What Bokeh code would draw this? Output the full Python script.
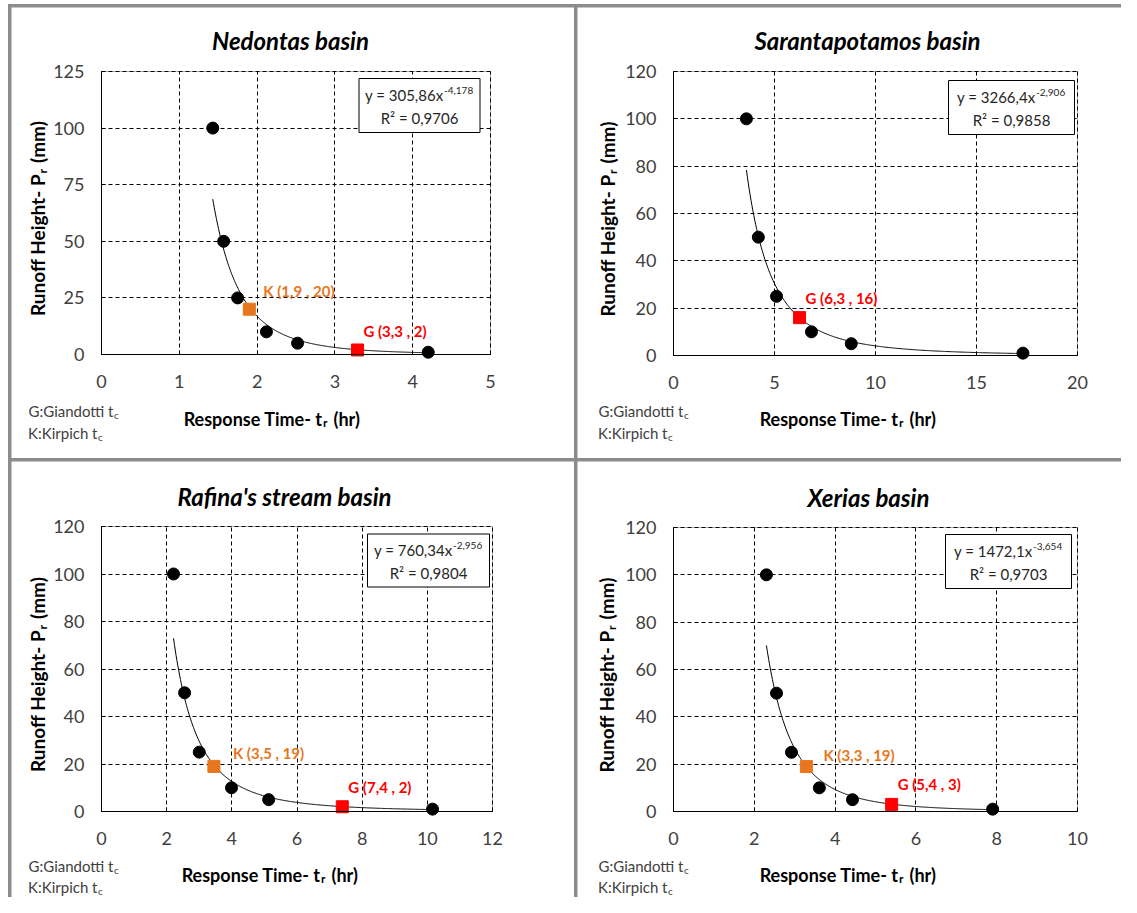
import numpy as np
from bokeh.plotting import figure
from bokeh.models import Range1d, FixedTicker, Label, BoxAnnotation, Grid
from bokeh.layouts import row, column
from bokeh.embed import file_html
from bokeh.resources import INLINE

# ---------------- data ----------------
titles = ["Nedontas basin", "Sarantapotamos basin", "Rafina's stream basin", "Xerias basin"]
runoff_mm = [100, 50, 25, 10, 5, 1]
ned_tr = [1.43, 1.57, 1.75, 2.12, 2.52, 4.20]
sar_tr = [3.61, 4.20, 5.10, 6.83, 8.80, 17.30]
raf_tr = [2.21, 2.55, 3.00, 3.99, 5.13, 10.16]
xer_tr = [2.30, 2.55, 2.92, 3.61, 4.43, 7.90]

# power-law trendline coefficients shown in each chart (y = a * x^b)
fit_a = [305.86, 3266.4, 760.34, 1472.1]
fit_b = [-4.178, -2.906, -2.956, -3.654]
eq_main = ["y = 305,86x", "y = 3266,4x", "y = 760,34x", "y = 1472,1x"]
eq_sup = ["-4,178", "-2,906", "-2,956", "-3,654"]
eq_r2 = ["R\u00b2 = 0,9706", "R\u00b2 = 0,9858", "R\u00b2 = 0,9804", "R\u00b2 = 0,9703"]

# Kirpich (K) and Giandotti (G) concentration times
kirpich_x = [1.9, None, 3.45, 3.29]
kirpich_y = [20, None, 19, 19]
kirpich_lbl = ["K (1,9 , 20)", None, "K (3,5 , 19)", "K (3,3 , 19)"]
giand_x = [3.29, 6.24, 7.39, 5.40]
giand_y = [2, 16, 2, 3]
giand_lbl = ["G (3,3 , 2)", "G (6,3 , 16)", "G (7,4 , 2)", "G (5,4 , 3)"]

x_max = [5, 20, 12, 10]
x_ticks = [[0, 1, 2, 3, 4, 5], [0, 5, 10, 15, 20], [0, 2, 4, 6, 8, 10, 12], [0, 2, 4, 6, 8, 10]]
y_max = [125, 120, 120, 120]
y_ticks = [[0, 25, 50, 75, 100, 125], [0, 20, 40, 60, 80, 100, 120],
           [0, 20, 40, 60, 80, 100, 120], [0, 20, 40, 60, 80, 100, 120]]
tr_sets = [ned_tr, sar_tr, raf_tr, xer_tr]

# ---------------- style / layout ----------------
FONT = "Lato"
GRAY = "#8c8c8c"
ORANGE = "#E8761E"
RED = "#FF0000"
TICK_COLOR = "#404040"
TEXT_DARK = "#262626"

# canvas width, height, plot-area left offset, plot-area width, top offset, plot-area height
geom = [(563, 451, 90, 389, 64, 283),
        (544, 451, 96, 404, 64, 284),
        (563, 436, 90, 391, 65, 285),
        (544, 436, 96, 404, 66, 284)]
title_off = [(189, 31), (194, 31), (183, 30), (195, 30)]
xt_anchor = [221, 225, 219, 225]
xt_below = [64, 63, 63, 63]
yt_left = [-64, -66, -64, -67]
note_anchor = [(12, -4), (10, -6), (12, -4), (10, -6)]
note_below = [(56, 78), (55, 77), (54, 75), (54, 75)]
# equation box: centre offset from plot-area left / top, and size
eq_box = [(318, 34, 121, 54), (338, 36, 126, 54), (327, 34, 122, 53), (335, 34, 126, 54)]
k_off = [(14, 18), None, (19, 13), (17, 12)]
g_off = [(6, 19), (6, 20), (6, 20), (6, 20)]


def lab(p, x, y, text, dx, dy, size, color="black", style="normal",
        align="left", baseline="middle", angle=0.0):
    p.add_layout(Label(x=x, y=y, x_offset=dx, y_offset=dy, text=text,
                       text_font=FONT, text_font_size=f"{size}px",
                       text_color=color, text_font_style=style,
                       text_align=align, text_baseline=baseline, angle=angle))


HAS_CROSS = "cross_bounds" in Grid.properties()


def make_panel(i):
    W, H, L, fw, T, fh = geom[i]
    xm, ym = x_max[i], y_max[i]
    ux, uy = xm / fw, ym / fh
    xr = Range1d(-L * ux, xm + (W - L - fw) * ux)
    yr = Range1d(-(H - T - fh) * uy, ym + T * uy)
    p = figure(width=W, height=H, x_range=xr, y_range=yr, title=None,
               output_backend="svg", toolbar_location=None,
               min_border_left=0, min_border_right=0, min_border_top=0, min_border_bottom=0)
    p.margin = (3, 0, 0, 3)
    p.background_fill_color = "white"
    p.border_fill_color = "white"
    p.outline_line_color = None

    for ax, ticks, bmax in ((p.xaxis[0], x_ticks[i], xm), (p.yaxis[0], y_ticks[i], ym)):
        ax.ticker = FixedTicker(ticks=ticks)
        ax.fixed_location = 0
        ax.bounds = (0, bmax)
        ax.axis_line_color = "black"
        ax.major_tick_in = 4
        ax.major_tick_out = 0
        ax.major_tick_line_color = "black"
        ax.minor_tick_line_color = None
        ax.major_label_text_font = FONT
        ax.major_label_text_font_size = "18px"
        ax.major_label_text_color = TICK_COLOR
    p.xaxis.major_label_standoff = 20
    p.yaxis.major_label_standoff = 17

    # dashed grid limited to the plot area
    if HAS_CROSS:
        for g, ticks, b, cb in ((p.xgrid[0], x_ticks[i], (0, xm), (0, ym)),
                                (p.ygrid[0], y_ticks[i], (0, ym), (0, xm))):
            g.ticker = FixedTicker(ticks=ticks)
            g.bounds = b
            g.cross_bounds = cb
            g.grid_line_color = "black"
            g.grid_line_dash = "4 3"
            g.grid_line_width = 1
    else:
        p.xgrid.visible = False
        p.ygrid.visible = False
        xt, yt = x_ticks[i], y_ticks[i]
        p.segment(x0=xt, y0=[0] * len(xt), x1=xt, y1=[ym] * len(xt),
                  line_color="black", line_dash="4 3", line_width=1, level="underlay")
        p.segment(x0=[0] * len(yt), y0=yt, x1=[xm] * len(yt), y1=yt,
                  line_color="black", line_dash="4 3", line_width=1, level="underlay")

    # plot-area frame
    p.add_layout(BoxAnnotation(left=0, right=xm, bottom=0, top=ym, fill_color=None,
                               line_color="black", line_width=1, level="underlay"))

    # trendline over the data range
    trs = tr_sets[i]
    xs = np.linspace(min(trs), max(trs), 300)
    p.line(xs, fit_a[i] * xs ** fit_b[i], line_color="black", line_width=1)

    # data points
    p.scatter(trs, runoff_mm, marker="circle", size=12, fill_color="black", line_color="black")

    # Kirpich / Giandotti markers
    if kirpich_x[i] is not None:
        p.scatter([kirpich_x[i]], [kirpich_y[i]], marker="square", size=12,
                  fill_color=ORANGE, line_color=ORANGE)
        lab(p, kirpich_x[i], kirpich_y[i], kirpich_lbl[i], k_off[i][0], k_off[i][1], 15,
            color=ORANGE, style="bold")
    p.scatter([giand_x[i]], [giand_y[i]], marker="square", size=12,
              fill_color=RED, line_color=RED)
    lab(p, giand_x[i], giand_y[i], giand_lbl[i], g_off[i][0], g_off[i][1], 15,
        color=RED, style="bold")

    # equation box
    bx, by, bw, bh = eq_box[i]
    cx = bx * ux
    cy = ym - by * uy
    p.rect([cx], [cy], width=bw, height=bh, width_units="screen", height_units="screen",
           fill_color="white", line_color="black", line_width=1)
    lab(p, cx, cy, eq_main[i], 24, 11, 15, color=TEXT_DARK, align="right")
    lab(p, cx, cy, eq_sup[i], 24.5, 15, 10, color=TEXT_DARK, align="left")
    lab(p, cx, cy, eq_r2[i], 0, -12, 15, color=TEXT_DARK, align="center")

    # title
    lab(p, 0, ym, titles[i], title_off[i][0], title_off[i][1], 24, style="bold italic",
        align="center")

    # x axis title with subscript
    a = xt_anchor[i]
    d = xt_below[i]
    lab(p, 0, 0, "Response Time- t", a, -d, 18, style="bold", align="right")
    lab(p, 0, 0, "r", a + 0.5, -d - 4, 12, style="bold", align="left")
    lab(p, 0, 0, "(hr)", a + 11, -d, 18, style="bold", align="left")

    # y axis title with subscript (rotated)
    yx = yt_left[i]
    ya = fh / 2 + 39
    lab(p, 0, 0, "Runoff Height- P", yx, ya, 19, style="bold", align="right", angle=np.pi / 2)
    lab(p, 0, 0, "r", yx + 4.5, ya + 0.5, 12, style="bold", align="left", angle=np.pi / 2)
    lab(p, 0, 0, "(mm)", yx, ya + 11, 19, style="bold", align="left", angle=np.pi / 2)

    # notes
    ga, ka = note_anchor[i]
    g1, g2 = note_below[i]
    lab(p, 0, 0, "G:Giandotti t", ga, -g1, 15, color=TICK_COLOR, align="right")
    lab(p, 0, 0, "c", ga + 0.5, -g1 - 4, 10, color=TICK_COLOR, align="left")
    lab(p, 0, 0, "K:Kirpich t", ka, -g2, 15, color=TICK_COLOR, align="right")
    lab(p, 0, 0, "c", ka + 0.5, -g2 - 4, 10, color=TICK_COLOR, align="left")
    return p


panels = [make_panel(i) for i in range(4)]
r1 = row(panels[0], panels[1], styles={"background-color": GRAY})
r2 = row(panels[2], panels[3], styles={"background-color": GRAY})
layout = column(r1, r2, styles={"background-color": GRAY})
layout.margin = (4, 0, 0, 8)

open("out.html", "w").write(file_html(layout, INLINE))
